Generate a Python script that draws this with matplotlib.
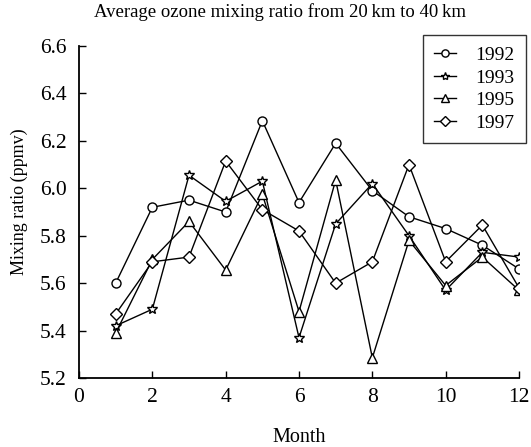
import numpy as np
import matplotlib
matplotlib.use('Agg')
import matplotlib.pyplot as plt

# Valores
months = [1, 2, 3, 4, 5, 6, 7, 8, 9, 10, 11, 12]
y1992 = [5.60, 5.92, 5.95, 5.90, 6.285, 5.94, 6.19, 5.99, 5.88, 5.83, 5.76, 5.66]
y1993 = [5.42, 5.49, 6.055, 5.945, 6.03, 5.37, 5.85, 6.02, 5.80, 5.57, 5.73, 5.71]
y1995 = [5.39, 5.70, 5.86, 5.655, 5.975, 5.48, 6.035, 5.285, 5.78, 5.59, 5.71, 5.57]
y1997 = [5.47, 5.69, 5.71, 6.115, 5.91, 5.82, 5.60, 5.69, 6.10, 5.69, 5.845, 5.58]
labels = ['1992', '1993', '1995', '1997']
markers = ['o', '*', '^', 'D']
xticks = [0, 2, 4, 6, 8, 10, 12]
yticks = [5.2, 5.4, 5.6, 5.8, 6.0, 6.2, 6.4, 6.6]

plt.rcParams['font.family'] = ['Liberation Serif', 'DejaVu Serif']

fig = plt.figure(figsize=(5.31, 4.47), dpi=100)
ax = fig.add_axes([0.1488, 0.1544, 0.8286, 0.7426])

series = [y1992, y1993, y1995, y1997]
sizes = {'o': 6.5, '*': 7.5, '^': 6.5, 'D': 6}
for ys, lab, mk in zip(series, labels, markers):
    ax.plot(months, ys, color='black', lw=1.0, marker=mk, ms=sizes[mk],
            mfc='white', mec='black', mew=1.0, label=lab)

ax.set_xlim(0, 12)
ax.set_ylim(5.2, 6.6)
ax.set_xticks(xticks)
ax.set_yticks(yticks)
ax.set_yticklabels([f'{v:.1f}' for v in yticks])
ax.tick_params(direction='in', length=5, width=1, labelsize=15.5)
ax.tick_params(axis='x', pad=7)
ax.tick_params(axis='y', pad=9)
ax.spines['top'].set_visible(False)
ax.spines['right'].set_visible(False)
for s in ['left', 'bottom']:
    ax.spines[s].set_linewidth(1.3)

ax.set_xlabel('Month', fontsize=14.5)
ax.xaxis.set_label_coords(0.5, -0.15)
ax.set_ylabel('Mixing ratio\u2009(ppmv)', fontsize=13)
ax.yaxis.set_label_coords(-0.116, 0.53)
fig.text(0.527, 0.972, 'Average ozone mixing ratio from 20\u2009km to 40\u2009km',
         ha='center', va='center', fontsize=13.5)

leg = ax.legend(loc='upper right', bbox_to_anchor=(526 / 531, 1 - 35 / 447),
                bbox_transform=fig.transFigure, fontsize=14, frameon=True,
                fancybox=False, edgecolor='black', handlelength=1.1,
                markerscale=0.8, borderpad=0.6, labelspacing=0.25,
                handletextpad=1.0, borderaxespad=0)
leg.get_frame().set_linewidth(1.0)

fig.savefig('out.png', dpi=100)
